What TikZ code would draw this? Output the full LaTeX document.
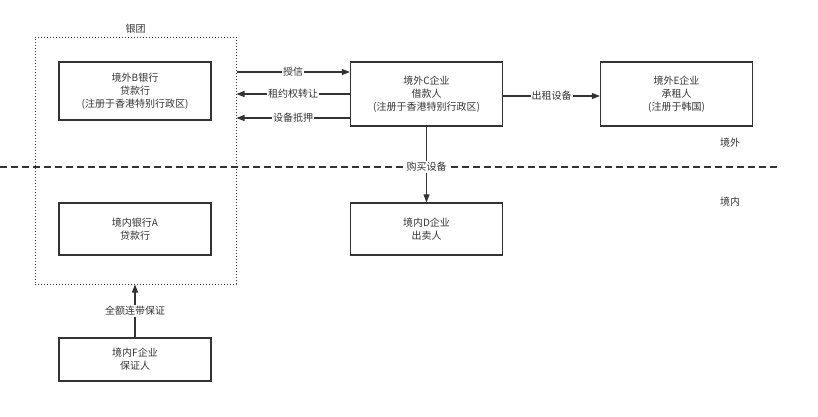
\documentclass[tikz,border=0pt]{standalone}
\usepackage{fontspec}
\setmainfont{Noto Sans CJK SC}
\usetikzlibrary{positioning, arrows.meta}

\definecolor{ink}{HTML}{333333}

\tikzset{
  party/.style={draw=ink, line width=1.3pt, text=ink, minimum width=152pt, align=center, font=\fontsize{10}{13}\selectfont},
  flow/.style={draw=ink, line width=1.1pt, -{Triangle[length=8pt,width=6pt]}},
  tag/.style={fill=white, text=ink, inner sep=1pt, font=\fontsize{10}{12}\selectfont},
}

\begin{document}
\begin{tikzpicture}[x=1pt, y=-1pt, node distance=130pt, on grid]
    \useasboundingbox (0,0) rectangle (818,416);
    % border line between offshore and onshore
    \coordinate (bl) at (0,167);
    \coordinate (br) at (780,167);
    \draw[ink, line width=1.1pt, dash pattern=on 7pt off 4pt] (bl) -- (br);
    \node[tag, fill=none] (off) at (730,143) {境外};
    \node[tag, fill=none] (on) at (730,202) {境内};

    % banks group
    \node[draw=ink, line width=1pt, dotted, minimum width=201pt, minimum height=247pt,
          label={[text=ink, font=\fontsize{10}{12}\selectfont]above:银团}] (grp) at (135.5,160.5) {};
    \node[party, minimum height=58pt] (B) at (135,91) {境外B银行\\贷款行\\(注册于香港特别行政区)};
    \node[party, minimum height=52pt] (A) [below=138pt of B] {境内银行A\\贷款行};
    \node[party, minimum height=43pt] (F) [below=130.5pt of A] {境内F企业\\保证人};

    % companies
    \node[party, minimum height=64pt] (C) at (426.5,94) {境外C企业\\借款人\\(注册于香港特别行政区)};
    \node[party, minimum height=64pt] (E) [right=250pt of C] {境外E企业\\承租人\\(注册于韩国)};
    \node[party, minimum height=52pt] (D) [below=135pt of C] {境内D企业\\出卖人};

    % flows
    \draw[flow] (grp.east |- 0,72) -- (C.west |- 0,72) node[tag, midway] {授信};
    \draw[flow] (C.west |- 0,94) -- (grp.east |- 0,94) node[tag, midway] {租约权转让};
    \draw[flow] (C.west |- 0,118) -- (grp.east |- 0,118) node[tag, midway] {设备抵押};
    \draw[flow] (C.east |- 0,96) -- (E.west |- 0,96) node[tag, midway] {出租设备};
    \draw[flow] (C) -- (D);
    \node[tag] (buy) at (C |- bl) {购买设备};
    \draw[flow] (F.north) -- (F.north |- grp.south) node[tag, midway] {全额连带保证};
\end{tikzpicture}
\end{document}
